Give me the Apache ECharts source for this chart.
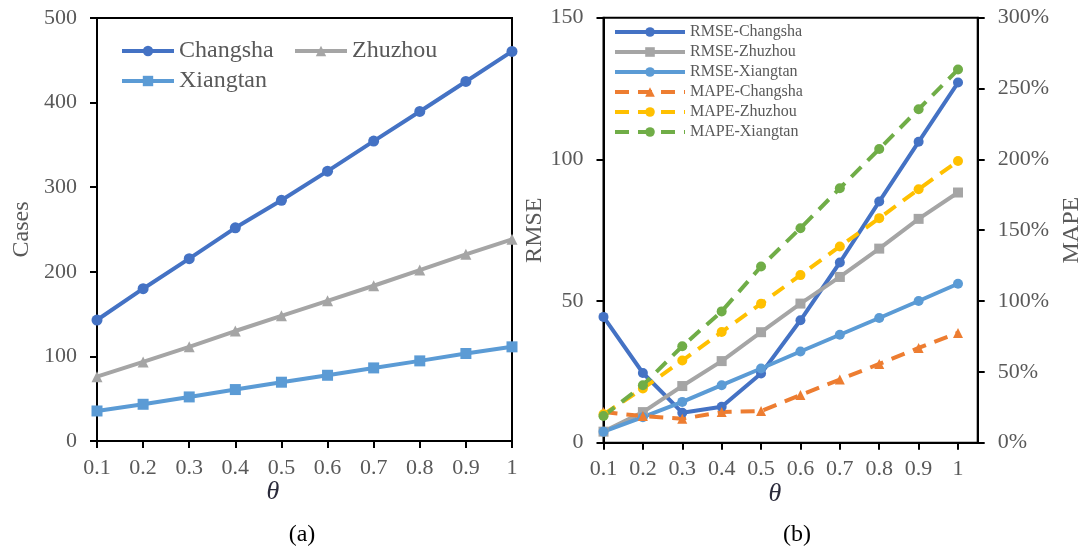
<!DOCTYPE html>
<html>
<head>
<meta charset="utf-8">
<script src="https://cdn.jsdelivr.net/npm/echarts@6/dist/echarts.min.js"></script>
<style>
  html, body { margin: 0; padding: 0; background: #fff; }
  #chart { width: 1091px; height: 556px; }
</style>
</head>
<body>
<div id="chart"></div>
<script>
// θ values shared by both panels
const thetas = [0.1, 0.2, 0.3, 0.4, 0.5, 0.6, 0.7, 0.8, 0.9, 1];

// (a) cases per city
const casesChangsha = [143, 180, 215.5, 252, 284.5, 319, 354.5, 389.5, 425, 460.5];
const casesZhuzhou  = [76, 93.5, 111.3, 130, 148, 165.7, 183.5, 202, 220.6, 238.4];
const casesXiangtan = [35.5, 43.4, 52.1, 60.8, 69.5, 77.7, 86.4, 94.7, 103.4, 111.3];

// (b) RMSE per city
const rmseChangsha = [44.4, 24.6, 10.6, 12.7, 24.4, 43.2, 63.6, 85.1, 106.2, 127.1];
const rmseZhuzhou  = [3.9, 10.8, 20.0, 28.8, 39.0, 49.1, 58.5, 68.5, 79.0, 88.3];
const rmseXiangtan = [3.9, 9.0, 14.4, 20.3, 26.2, 32.2, 38.1, 44.0, 50.0, 56.1];

// (b) MAPE per city, in percent
const mapeChangsha = [21.6, 18.8, 16.9, 21.6, 22.3, 33.6, 44.6, 55.6, 66.9, 77.5];
const mapeZhuzhou  = [20.0, 38.3, 58.0, 78.2, 98.1, 118.3, 138.5, 158.5, 178.9, 198.8];
const mapeXiangtan = [18.8, 40.6, 68.1, 92.7, 124.4, 151.4, 179.6, 207.3, 235.4, 263.4];

const FONT = 'Liberation Serif';
const GREY = '#595959';
const C = {
  blue: '#4472C4', grey: '#A5A5A5', lightBlue: '#5B9BD5',
  orange: '#ED7D31', yellow: '#FFC000', green: '#70AD47'
};

const pairs = vals => thetas.map((t, i) => [t, vals[i]]);

const axisLineStyle = { show: true, lineStyle: { color: '#000', width: 2 } };
const tickStyle = { show: true, length: 7, lineStyle: { color: '#000', width: 2 } };
const labelStyle = { color: GREY, fontFamily: FONT, fontSize: 22 };
const nameStyle = { color: GREY, fontFamily: FONT, fontSize: 24 };

function xAxisFor(gridIndex, max) {
  return {
    type: 'value', gridIndex, min: 0.1, max,
    axisLine: axisLineStyle,
    axisTick: Object.assign({ customValues: thetas }, tickStyle),
    axisLabel: Object.assign({ customValues: thetas, margin: 16,
      formatter: v => String(Math.round(v * 10) / 10) }, labelStyle),
    splitLine: { show: false }
  };
}

function lineSeries(name, vals, color, symbol, opts) {
  const o = opts || {};
  return {
    name, type: 'line', data: pairs(vals),
    xAxisIndex: o.x || 0, yAxisIndex: o.y || 0,
    symbol, symbolSize: o.size || 10,
    lineStyle: { color, width: o.width || 4, type: o.dash || 'solid' },
    itemStyle: { color },
    emphasis: { disabled: true },
    animation: false
  };
}

const leftLegendBase = {
  orient: 'horizontal', padding: 0, itemWidth: 52, itemHeight: 13,
  lineStyle: { width: 4 },
  textStyle: { color: GREY, fontFamily: FONT, fontSize: 24 }
};

const DASH = [14, 9];

const option = {
  backgroundColor: '#fff',
  animation: false,
  grid: [
    { left: 97, right: 579, top: 18, bottom: 115, show: true, borderColor: '#000', borderWidth: 2 },
    { left: 603.5, right: 113.3, top: 17.7, bottom: 113.3, show: true, borderColor: '#000', borderWidth: 2 }
  ],
  xAxis: [ xAxisFor(0, 1), xAxisFor(1, 1.05) ],
  yAxis: [
    {
      type: 'value', gridIndex: 0, min: 0, max: 500, interval: 100,
      name: 'Cases', nameLocation: 'middle', nameRotate: 90, nameGap: 63, nameTextStyle: nameStyle,
      axisLine: axisLineStyle, axisTick: tickStyle,
      axisLabel: Object.assign({ margin: 20 }, labelStyle),
      splitLine: { show: false }
    },
    {
      type: 'value', gridIndex: 1, min: 0, max: 150, interval: 50, position: 'left',
      name: 'RMSE', nameLocation: 'middle', nameRotate: 90, nameGap: 32, nameTextStyle: nameStyle,
      axisLine: axisLineStyle, axisTick: tickStyle,
      axisLabel: Object.assign({ margin: 20 }, labelStyle),
      splitLine: { show: false }
    },
    {
      type: 'value', gridIndex: 1, min: 0, max: 300, interval: 50, position: 'right',
      name: 'MAPE', nameLocation: 'middle', nameRotate: 90, nameGap: 82, nameTextStyle: nameStyle,
      axisLine: axisLineStyle, axisTick: tickStyle,
      axisLabel: Object.assign({ margin: 20, formatter: '{value}%' }, labelStyle),
      splitLine: { show: false }
    }
  ],
  legend: [
    Object.assign({ left: 120, top: 39, data: ['Changsha'] }, leftLegendBase),
    Object.assign({ left: 293, top: 39, data: ['Zhuzhou'] }, leftLegendBase),
    Object.assign({ left: 120, top: 69, data: ['Xiangtan'] }, leftLegendBase),
    {
      orient: 'vertical', left: 613, top: 24, padding: 0, itemGap: 4,
      itemWidth: 70, itemHeight: 12,
      lineStyle: { width: 4 },
      textStyle: { color: GREY, fontFamily: FONT, fontSize: 16 },
      data: ['RMSE-Changsha', 'RMSE-Zhuzhou', 'RMSE-Xiangtan',
             'MAPE-Changsha', 'MAPE-Zhuzhou', 'MAPE-Xiangtan']
    }
  ],
  series: [
    lineSeries('Changsha', casesChangsha, C.blue, 'circle', { size: 11 }),
    lineSeries('Zhuzhou', casesZhuzhou, C.grey, 'triangle', { size: 11 }),
    lineSeries('Xiangtan', casesXiangtan, C.lightBlue, 'rect', { size: 11 }),

    lineSeries('RMSE-Changsha', rmseChangsha, C.blue, 'circle', { x: 1, y: 1 }),
    lineSeries('RMSE-Zhuzhou', rmseZhuzhou, C.grey, 'rect', { x: 1, y: 1 }),
    lineSeries('RMSE-Xiangtan', rmseXiangtan, C.lightBlue, 'circle', { x: 1, y: 1 }),
    lineSeries('MAPE-Changsha', mapeChangsha, C.orange, 'triangle', { x: 1, y: 2, dash: DASH }),
    lineSeries('MAPE-Zhuzhou', mapeZhuzhou, C.yellow, 'circle', { x: 1, y: 2, dash: DASH }),
    lineSeries('MAPE-Xiangtan', mapeXiangtan, C.green, 'circle', { x: 1, y: 2, dash: DASH })
  ],
  graphic: [
    { type: 'text', x: 273, y: 492, style: { text: 'θ', fill: '#2a2a3a', font: 'italic 26px "Liberation Serif"', align: 'center', verticalAlign: 'middle' } },
    { type: 'text', x: 302, y: 535, style: { text: '(a)', fill: '#000', font: '24px "Liberation Serif"', align: 'center', verticalAlign: 'middle' } },
    { type: 'text', x: 775, y: 494, style: { text: 'θ', fill: '#2a2a3a', font: 'italic 26px "Liberation Serif"', align: 'center', verticalAlign: 'middle' } },
    { type: 'text', x: 797, y: 535, style: { text: '(b)', fill: '#000', font: '24px "Liberation Serif"', align: 'center', verticalAlign: 'middle' } }
  ]
};

const chart = echarts.init(document.getElementById('chart'), null, { renderer: 'canvas' });
chart.setOption(option);
</script>
</body>
</html>
